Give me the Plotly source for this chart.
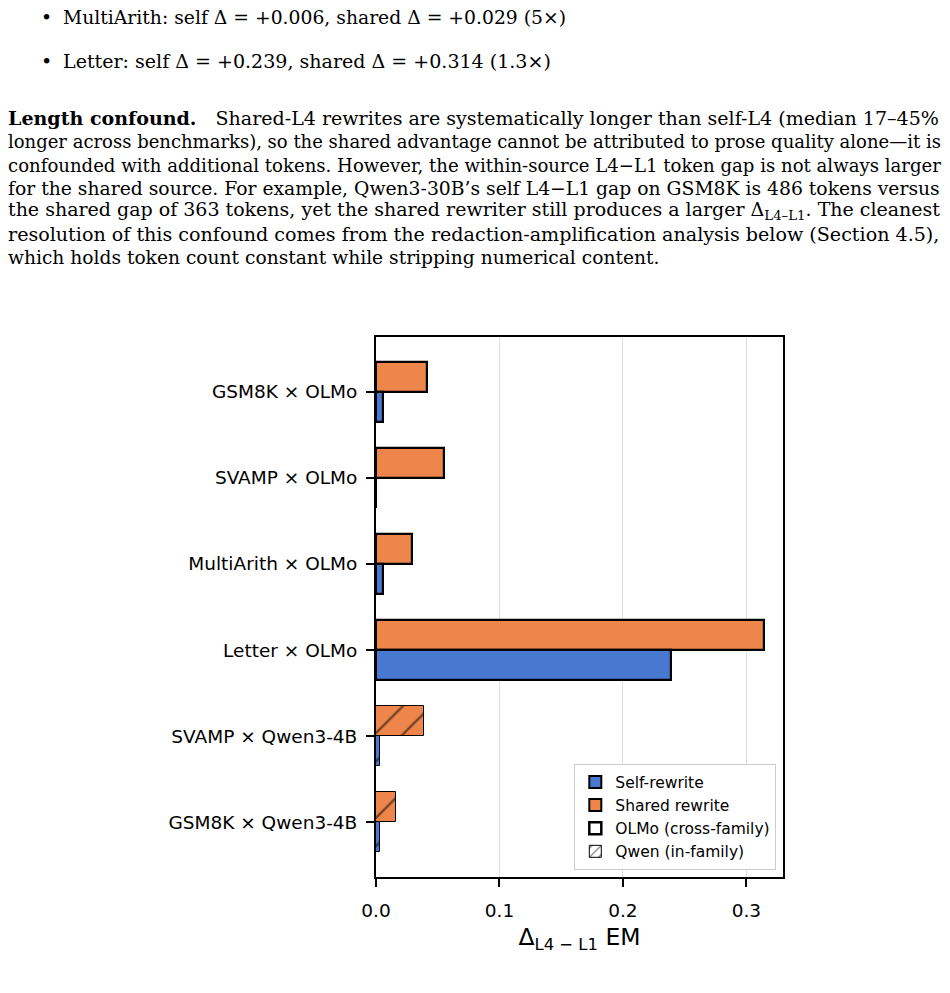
import plotly.graph_objects as go

# ---------------- data ----------------
categories = ["GSM8K × OLMo", "SVAMP × OLMo", "MultiArith × OLMo",
              "Letter × OLMo", "SVAMP × Qwen3-4B", "GSM8K × Qwen3-4B"]
self_delta = [0.006, 0.000, 0.006, 0.239, 0.003, 0.003]
shared_delta = [0.041, 0.055, 0.029, 0.314, 0.039, 0.016]
family = ["OLMo", "OLMo", "OLMo", "OLMo", "Qwen", "Qwen"]
x_ticks = [0.0, 0.1, 0.2, 0.3]
x_tick_labels = ["0.0", "0.1", "0.2", "0.3"]

bullet_lines = [
    "MultiArith: self Δ = +0.006, shared Δ = +0.029 (5×)",
    "Letter: self Δ = +0.239, shared Δ = +0.314 (1.3×)",
]
para_lines = [
    "<b>Length confound.</b>\u2003Shared-L4 rewrites are systematically longer than self-L4 (median 17–45%",
    "longer across benchmarks), so the shared advantage cannot be attributed to prose quality alone—it is",
    "confounded with additional tokens. However, the within-source L4−L1 token gap is not always larger",
    "for the shared source. For example, Qwen3-30B’s self L4−L1 gap on GSM8K is 486 tokens versus",
    "the shared gap of 363 tokens, yet the shared rewriter still produces a larger Δ<sub>L4–L1</sub>. The cleanest",
    "resolution of this confound comes from the redaction-amplification analysis below (Section 4.5),",
    "which holds token count constant while stripping numerical content.",
]

# ---------------- style ----------------
W, H = 950, 993
L, R, T, B = 376, 783, 337, 877
BLUE = "#4878d0"
ORANGE = "#ee854a"
SANS = "DejaVu Sans"
SERIF = "DejaVu Serif"
# per-line sizes so that the justified lines span the text width
bullet_sizes = [18.75, 19.05]
para_sizes = [19.05, 18.0, 18.1, 18.75, 19.0, 19.1, 18.65]
bullet_y = [17, 61]
para_y = [118, 141, 165, 188, 211, 234, 257]

def px(x):
    return (x - L) / (R - L)

def py(y):
    return (B - y) / (B - T)

lw = [2.2 if f == "OLMo" else 1.0 for f in family]
pat = ["" if f == "OLMo" else "/" for f in family]

fig = go.Figure()
fig.add_trace(go.Bar(
    y=categories, x=shared_delta, orientation="h", width=0.35, offset=-0.35,
    marker=dict(color=ORANGE, line=dict(color="black", width=lw),
                pattern=dict(shape=pat, fgcolor="black", bgcolor=ORANGE,
                             size=20, solidity=0.12, fillmode="overlay")),
    showlegend=False, hoverinfo="x+y"))
fig.add_trace(go.Bar(
    y=categories, x=self_delta, orientation="h", width=0.35, offset=0.0,
    marker=dict(color=BLUE, line=dict(color="black", width=lw),
                pattern=dict(shape=pat, fgcolor="black", bgcolor=BLUE,
                             size=20, solidity=0.12, fillmode="overlay")),
    showlegend=False, hoverinfo="x+y"))

# legend-only entries
legend_items = [
    ("Self-rewrite", BLUE, "", 2),
    ("Shared rewrite", ORANGE, "", 2),
    ("OLMo (cross-family)", "white", "", 2.5),
    ("Qwen (in-family)", "white", "/", 1),
]
for name, col, shp, w in legend_items:
    fig.add_trace(go.Bar(
        y=[None], x=[None], orientation="h", name=name,
        marker=dict(color=col, line=dict(color="black", width=w),
                    pattern=dict(shape=shp, fgcolor="black", bgcolor=col,
                                 size=8, solidity=0.2)),
        showlegend=True))

annotations = []
for t, yc, s in zip(bullet_lines, bullet_y, bullet_sizes):
    annotations.append(dict(text="•", x=px(39), y=py(yc), xref="paper", yref="paper",
                            xanchor="left", yanchor="middle", showarrow=False,
                            font=dict(family=SERIF, size=s, color="black")))
    annotations.append(dict(text=t, x=px(61), y=py(yc), xref="paper", yref="paper",
                            xanchor="left", yanchor="middle", showarrow=False,
                            font=dict(family=SERIF, size=s, color="black")))
for t, yc, s in zip(para_lines, para_y, para_sizes):
    annotations.append(dict(text=t, x=px(6), y=py(yc), xref="paper", yref="paper",
                            xanchor="left", yanchor="middle", showarrow=False,
                            font=dict(family=SERIF, size=s, color="black")))

fig.update_layout(
    width=W, height=H,
    margin=dict(l=L, r=W - R, t=T, b=H - B, pad=0),
    paper_bgcolor="white", plot_bgcolor="white",
    barmode="overlay", bargap=0,
    showlegend=True,
    legend=dict(x=px(776), y=py(870), xanchor="right", yanchor="bottom",
                bgcolor="white", bordercolor="#cccccc", borderwidth=1.3,
                font=dict(family=SANS, size=15.5, color="black"),
                itemwidth=30, tracegroupgap=0, traceorder="normal"),
    annotations=annotations,
    font=dict(family=SANS, color="black"),
)
fig.update_xaxes(
    range=[0, 0.3297], tickvals=x_ticks, ticktext=x_tick_labels,
    showgrid=True, gridcolor="#dedede", gridwidth=1,
    zeroline=False, showline=True, linecolor="black", linewidth=2, mirror=True,
    ticks="outside", ticklen=8, tickwidth=1.5, tickcolor="black",
    tickfont=dict(family=SANS, size=18.5, color="black"),
    ticklabelstandoff=8,
    title=dict(text="Δ<sub>L4 − L1</sub> EM", font=dict(family=SANS, size=23.5, color="black"),
               standoff=8),
)
fig.update_yaxes(
    type="category", categoryorder="array", categoryarray=categories,
    range=[5.635, -0.635],
    showgrid=False, zeroline=False, showline=True, linecolor="black", linewidth=2, mirror=True,
    ticks="outside", ticklen=8, tickwidth=1.5, tickcolor="black",
    tickfont=dict(family=SANS, size=18.5, color="black"),
    ticklabelstandoff=5,
)

fig.write_html("out.html")
